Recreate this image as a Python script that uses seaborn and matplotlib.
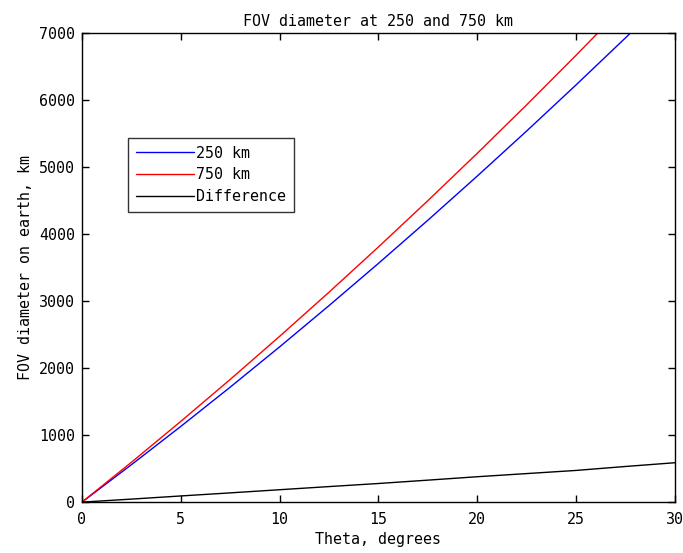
import matplotlib
matplotlib.use("Agg")
import matplotlib.pyplot as plt
import seaborn as sns
import pandas as pd

# values
theta = [0, 2.5, 5, 7.5, 10, 12.5, 15, 17.5, 20, 22.5, 25, 27.5, 30]
fov_250 = [0, 558, 1130, 1716, 2317, 2933, 3563, 4207, 4866, 5539, 6227, 6929, 7646]
fov_750 = [0, 594, 1205, 1831, 2474, 3133, 3808, 4499, 5206, 5929, 6669, 7425, 8196]
difference = [0, 45, 92, 138, 185, 232, 278, 328, 379, 426, 473, 532, 588]

series_names = ["250 km", "750 km", "Difference"]
series_colors = ["#0000ff", "#ff0000", "#000000"]

df = pd.DataFrame({"theta": theta * 3,
                   "fov": fov_250 + fov_750 + difference,
                   "series": [s for s in series_names for _ in theta]})

sns.set_style("ticks")
plt.rcParams['font.family'] = ['DejaVu Sans Mono']
plt.rcParams['text.color'] = 'black'
plt.rcParams['axes.labelcolor'] = 'black'
fs = 10.8

fig = plt.figure(figsize=(6.83, 5.53), dpi=100)
ax = fig.add_axes([0.120, 0.092, 0.868, 0.848])

sns.lineplot(data=df, x="theta", y="fov", hue="series", hue_order=series_names,
             palette=series_colors, linewidth=1, ax=ax)

ax.set_xlim(0, 30)
ax.set_ylim(0, 7000)
ax.set_xticks([0, 5, 10, 15, 20, 25, 30])
ax.set_yticks(range(0, 7001, 1000))
ax.tick_params(direction="in", top=True, right=True, length=5, width=1,
               labelsize=fs, colors="black")
ax.tick_params(axis="x", pad=7)
ax.tick_params(axis="y", pad=5)
for sp in ax.spines.values():
    sp.set_visible(True)
    sp.set_linewidth(1)
    sp.set_color("black")

ax.set_title("FOV diameter at 250 and 750 km", fontsize=fs, pad=5, color="black")
ax.set_xlabel("Theta, degrees", fontsize=fs, labelpad=4, color="black")
ax.set_ylabel("FOV diameter on earth, km", fontsize=fs, labelpad=4, color="black")

leg = ax.legend(loc="upper left", bbox_to_anchor=(0.078, 0.776), fontsize=fs,
                frameon=True, fancybox=False, edgecolor="black",
                handlelength=3.9, handletextpad=0.15, borderpad=0.5,
                labelspacing=0.45, borderaxespad=0)
leg.get_frame().set_linewidth(1)
for t in leg.get_texts():
    t.set_color("black")

fig.savefig("out.png", dpi=100)
